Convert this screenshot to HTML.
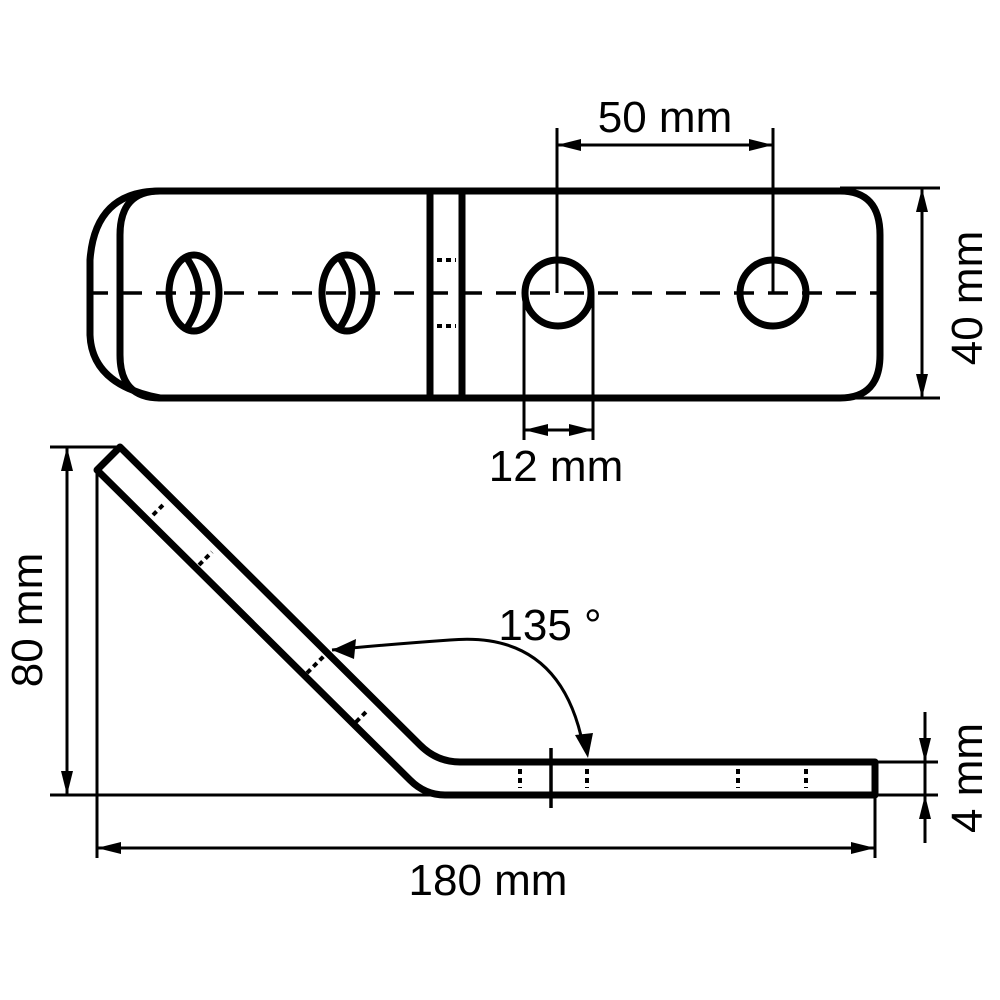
<!DOCTYPE html>
<html><head><style>body{margin:0;background:#fff}svg{display:block}</style></head><body>
<svg width="1000" height="1000" viewBox="0 0 1000 1000" xmlns="http://www.w3.org/2000/svg">
<defs>
<marker id="b" markerWidth="24" markerHeight="12" refX="24" refY="6" orient="auto-start-reverse" markerUnits="userSpaceOnUse"><path d="M0,0 L24,6 L0,12z" fill="#000"/></marker>
</defs>
<g fill="none" stroke="#000" stroke-width="7">
<path d="M160,191 H840 Q880,191 880,235 V355 Q880,398 840,398 H160 Q120,398 120,355 V235 Q120,191 160,191"/>
<path d="M160,191 Q95,191 90,260 V335 Q92,385 160,398"/>
<line x1="430" y1="191" x2="430" y2="398"/>
<line x1="462" y1="191" x2="462" y2="398"/>
<ellipse cx="194" cy="293" rx="25" ry="38"/>
<path d="M186,257 Q212,293 186,329"/>
<ellipse cx="347" cy="293" rx="25" ry="38"/>
<path d="M339,257 Q365,293 339,329"/>
<circle cx="558" cy="293" r="33"/>
<circle cx="773" cy="293" r="33"/>
</g>
<line x1="88" y1="293" x2="882" y2="293" stroke="#000" stroke-width="3.5" stroke-dasharray="20,14"/>
<g stroke="#000" stroke-width="4" stroke-dasharray="5,4">
<line x1="437" y1="260" x2="456" y2="260"/><line x1="437" y1="326" x2="456" y2="326"/>
</g>
<g stroke="#000" stroke-width="3" fill="none">
<line x1="557" y1="128" x2="557" y2="293"/><line x1="773" y1="128" x2="773" y2="293"/>
<line x1="557" y1="145" x2="773" y2="145" marker-start="url(#b)" marker-end="url(#b)"/>
<line x1="840" y1="188" x2="940" y2="188"/><line x1="840" y1="398" x2="940" y2="398"/>
<line x1="922" y1="188" x2="922" y2="398" marker-start="url(#b)" marker-end="url(#b)"/>
<line x1="524" y1="293" x2="524" y2="440"/><line x1="593" y1="293" x2="593" y2="440"/>
<line x1="524" y1="430" x2="593" y2="430" marker-start="url(#b)" marker-end="url(#b)"/>
<line x1="50" y1="447" x2="120" y2="447"/>
<line x1="50" y1="795" x2="440" y2="795"/>
<line x1="97" y1="470" x2="97" y2="858"/>
<line x1="67" y1="447" x2="67" y2="795" marker-start="url(#b)" marker-end="url(#b)"/>
<line x1="875" y1="795" x2="875" y2="858"/>
<line x1="97" y1="848" x2="875" y2="848" marker-start="url(#b)" marker-end="url(#b)"/>
<line x1="875" y1="762" x2="938" y2="762"/><line x1="875" y1="795" x2="938" y2="795"/>
<line x1="925" y1="712" x2="925" y2="762" marker-end="url(#b)"/>
<line x1="925" y1="843" x2="925" y2="795" marker-end="url(#b)"/>
<line x1="925" y1="762" x2="925" y2="795"/>
<line x1="551" y1="748" x2="551" y2="808" stroke-width="3.5"/>
<path d="M583,745 Q560,630 450,640 Q380,645 332,650" stroke-width="3"/>
</g>
<path d="M332,650 L356,639 L354,659z" fill="#000"/>
<path d="M588,758 L575,735 L593,733z" fill="#000"/>
<g fill="none" stroke="#000" stroke-width="7" stroke-linejoin="round">
<path d="M97,470 L120,447 L420,745 Q437,762 460,762 H875 V795 H445 Q425,795 410,780 L97,470z"/>
</g>
<g stroke="#000" stroke-width="4" stroke-dasharray="5,4">
<line x1="153" y1="515" x2="164" y2="504"/><line x1="199" y1="565" x2="212" y2="552"/>
<line x1="307" y1="673" x2="324" y2="656"/><line x1="356" y1="722" x2="368" y2="710"/>
<line x1="520" y1="769" x2="520" y2="788"/><line x1="587" y1="769" x2="587" y2="788"/>
<line x1="738" y1="769" x2="738" y2="788"/><line x1="806" y1="769" x2="806" y2="788"/>
</g>
<g font-family="Liberation Sans, sans-serif" font-size="44" fill="#000" text-anchor="middle">
<text x="665" y="132">50 mm</text>
<text x="556" y="481">12 mm</text>
<text x="488" y="895">180 mm</text>
<text x="550" y="640">135 °</text>
<text transform="translate(982,298) rotate(-90)">40 mm</text>
<text transform="translate(982,778) rotate(-90)">4 mm</text>
<text transform="translate(42,620) rotate(-90)">80 mm</text>
</g>
</svg>
</body></html>
